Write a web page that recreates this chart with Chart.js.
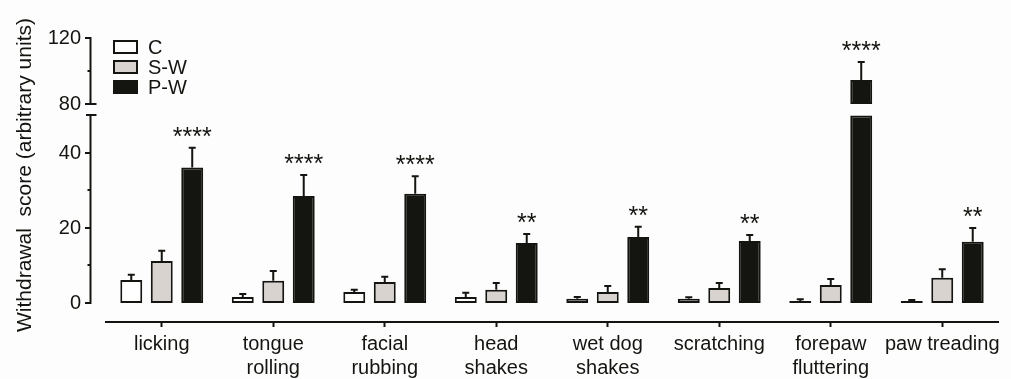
<!DOCTYPE html>
<html><head><meta charset="utf-8">
<script src="https://cdn.jsdelivr.net/npm/chart.js@4/dist/chart.umd.min.js"></script>
<style>html,body{margin:0;padding:0;background:#fdfdfd}#wrap{width:1011px;height:379px;position:relative}</style>
</head><body><div id="wrap"><canvas id="c"></canvas></div>
<script>
const categories = ['licking', ['tongue','rolling'], ['facial','rubbing'], ['head','shakes'], ['wet dog','shakes'], 'scratching', ['forepaw','fluttering'], 'paw treading'];
const seriesNames = ['C', 'S-W', 'P-W'];
const cMean  = [6.1, 1.6, 2.9, 1.6, 1.1, 1.1, 0.5, 0.5];
const cErr   = [1.4, 0.8, 0.6, 1.1, 0.5, 0.4, 0.5, 0.3];
const swMean = [11.2, 5.9, 5.6, 3.5, 2.9, 4.0, 4.8, 6.7];
const swErr  = [2.7, 2.6, 1.4, 1.8, 1.6, 1.3, 1.6, 2.3];
const pwMean = [36.1, 28.5, 29.1, 16.0, 17.6, 16.5, 94.5, 16.3];
const pwErr  = [5.3, 5.6, 4.7, 2.4, 2.7, 1.6, 11.0, 3.7];
const stars  = ['****', '****', '****', '**', '**', '**', '****', '**'];
const lowerTicks = [0, 20, 40];
const lowerMinor = [10, 30];
const upperTicks = [80, 120];
const upperMinor = [100];
const LOWER_TOP = 50;
const UPPER_BOTTOM = 80;
const yTitle = 'Withdrawal  score (arbitrary units)';

const ink = '#141410';
const fills = ['#ffffff', '#d8d3cf', ink];
const FONT = "'Liberation Sans', Arial, sans-serif";
Chart.defaults.font.family = FONT;
Chart.defaults.color = ink;

const means = [cMean, swMean, pwMean];
const errs = [cErr, swErr, pwErr];

const brokenAxis = {
  id: 'brokenAxis',
  beforeDraw(chart) {
    const ctx = chart.ctx;
    ctx.save();
    ctx.fillStyle = '#fdfdfd';
    ctx.fillRect(0, 0, chart.width, chart.height);
    ctx.restore();
  },
  afterDatasetsDraw(chart) {
    const ctx = chart.ctx, yL = chart.scales.y, yU = chart.scales.y2;
    ctx.save();
    ctx.strokeStyle = ink;
    ctx.fillStyle = ink;
    ctx.lineWidth = 2;
    for (let d = 0; d < 3; d++) {
      const meta = chart.getDatasetMeta(d);
      means[d].forEach((m, i) => {
        const el = meta.data[i];
        if (!el) return;
        const x = el.x;
        const ax = m > LOWER_TOP ? yU : yL;
        const top = ax.getPixelForValue(m);
        const et = ax.getPixelForValue(m + errs[d][i]);
        ctx.beginPath();
        ctx.moveTo(x, top);
        ctx.lineTo(x, et);
        ctx.moveTo(x - 3.5, et);
        ctx.lineTo(x + 3.5, et);
        ctx.stroke();
        if (d === 2 && stars[i]) {
          ctx.font = '25px ' + FONT;
          ctx.textAlign = 'center';
          ctx.textBaseline = 'alphabetic';
          ctx.fillText(stars[i], x, et - 3);
        }
      });
    }
    ctx.restore();
  },
  afterDraw(chart) {
    const ctx = chart.ctx, yL = chart.scales.y, yU = chart.scales.y2;
    const ax = 90.5;
    ctx.save();
    ctx.strokeStyle = ink;
    ctx.lineWidth = 2;
    const seg = (x1, y1, x2, y2) => { ctx.beginPath(); ctx.moveTo(x1, y1); ctx.lineTo(x2, y2); ctx.stroke(); };
    // upper segment
    const uTop = yU.getPixelForValue(Math.max(...upperTicks));
    const uBot = yU.getPixelForValue(UPPER_BOTTOM);
    seg(ax, uTop - 1, ax, uBot);
    upperTicks.forEach(v => { const p = Math.round(yU.getPixelForValue(v)); seg(85, p, ax, p); });
    upperMinor.forEach(v => { const p = Math.round(yU.getPixelForValue(v)); seg(87.5, p, ax, p); });
    seg(85, Math.round(uBot), 96.5, Math.round(uBot));
    // lower segment
    const lTop = yL.getPixelForValue(LOWER_TOP);
    const lBot = yL.getPixelForValue(0);
    seg(ax, lTop, ax, lBot + 1);
    seg(86, Math.round(lTop), 96.5, Math.round(lTop));
    lowerTicks.forEach(v => { const p = Math.round(yL.getPixelForValue(v)); seg(85, p, ax, p); });
    lowerMinor.forEach(v => { const p = Math.round(yL.getPixelForValue(v)); seg(87.5, p, ax, p); });
    // y title
    ctx.save();
    ctx.translate(25, 175);
    ctx.rotate(-Math.PI / 2);
    ctx.fillStyle = ink;
    ctx.font = '21px ' + FONT;
    ctx.textAlign = 'center';
    ctx.textBaseline = 'middle';
    ctx.fillText(yTitle, 0, 0);
    ctx.restore();
    // legend
    ctx.font = '20px ' + FONT;
    ctx.textAlign = 'left';
    ctx.textBaseline = 'middle';
    seriesNames.forEach((n, i) => {
      const cy = 47 + 20 * i;
      ctx.fillStyle = fills[i];
      ctx.fillRect(114, cy - 6, 23, 12);
      ctx.strokeRect(114, cy - 6, 23, 12);
      ctx.fillStyle = ink;
      ctx.fillText(n, 148, cy + 1);
    });
    ctx.restore();
  }
};

const yCommon = {
  position: 'left', stack: 'v', stacked: false,
  border: { display: false },
  grid: { display: false, drawTicks: false },
  ticks: { padding: 25, color: ink, font: { size: 20 } },
  afterFit: s => { s.width = 106; }
};

new Chart(document.getElementById('c'), {
  type: 'bar',
  data: {
    labels: categories,
    datasets: [
      { label: seriesNames[0], data: cMean, backgroundColor: fills[0], stack: 'c', yAxisID: 'y' },
      { label: seriesNames[1], data: swMean, backgroundColor: fills[1], stack: 's', yAxisID: 'y' },
      { label: seriesNames[2], data: pwMean.map(v => Math.min(v, LOWER_TOP)), backgroundColor: fills[2], stack: 'p', yAxisID: 'y' },
      { label: seriesNames[2] + ' (upper)', data: pwMean.map(v => v > LOWER_TOP ? [UPPER_BOTTOM, v] : null), backgroundColor: fills[2], stack: 'p', yAxisID: 'y2' }
    ]
  },
  options: {
    responsive: true, maintainAspectRatio: false, animation: false,
    layout: { padding: { top: 38, right: 13, bottom: 0, left: 0 } },
    datasets: { bar: { borderColor: ink, borderWidth: 2, borderSkipped: false, categoryPercentage: 0.82, barPercentage: 0.72 } },
    plugins: { legend: { display: false }, tooltip: { enabled: false } },
    scales: {
      x: {
        border: { display: true, color: ink, width: 2 },
        grid: { display: true, drawOnChartArea: false, drawTicks: true, tickLength: 5, tickWidth: 2, tickColor: ink, offset: false },
        ticks: { autoSkip: false, maxRotation: 0, padding: 5, color: ink, font: { size: 20, lineHeight: 1.2 } },
        afterFit: s => { s.height = 57; }
      },
      y: Object.assign({}, yCommon, {
        stackWeight: 214, min: -5.07, max: 52, weight: 0,
        afterBuildTicks: s => { s.ticks = lowerTicks.map(v => ({ value: v })); }
      }),
      y2: Object.assign({}, yCommon, {
        stackWeight: 70, min: 77.6, max: 120, weight: 1,
        afterBuildTicks: s => { s.ticks = upperTicks.map(v => ({ value: v })); }
      })
    }
  },
  plugins: [brokenAxis]
});
</script>
</body></html>
